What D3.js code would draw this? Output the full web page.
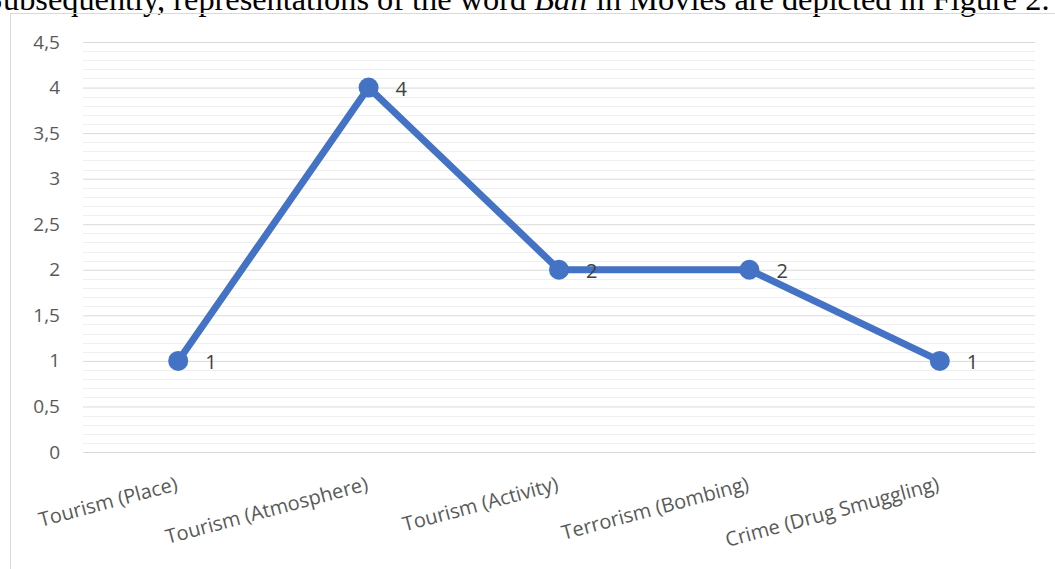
<!DOCTYPE html>
<html>
<head>
<meta charset="utf-8">
<script src="https://cdn.jsdelivr.net/npm/d3@7"></script>
<style>
  html, body { margin: 0; padding: 0; background: #fff; overflow: hidden; }
  svg { display: block; }
</style>
</head>
<body>
<div id="chart"></div>
<script>
// data
var categories = ["Tourism (Place)", "Tourism (Atmosphere)", "Tourism (Activity)", "Terrorism (Bombing)", "Crime (Drug Smuggling)"];
var values = [1, 4, 2, 2, 1];
var yTicks = [0, 0.5, 1, 1.5, 2, 2.5, 3, 3.5, 4, 4.5];
var minorTicks = d3.range(0, 46).map(function (i) { return i / 10; });

var W = 1055, H = 569;
var svg = d3.select("#chart").append("svg")
  .attr("width", W)
  .attr("height", H);

// caption line of the page, cut at the top like in the scan
var cap = svg.append("text")
  .attr("x", -15)
  .attr("y", 10)
  .style("font-family", "'Liberation Serif', 'Times New Roman', serif")
  .style("font-size", "30px")
  .style("fill", "#000");
cap.append("tspan").text("Subsequently, representations of the word ");
cap.append("tspan").style("font-style", "italic").text("Bali");
cap.append("tspan").text(" in Movies are depicted in Figure 2.");
// fit the line to the width seen in the picture
var capLen = cap.node().getComputedTextLength();
cap.style("font-size", (30 * 1065 / capLen) + "px");

// chart frame
svg.append("rect")
  .attr("x", 10.5).attr("y", 13.5)
  .attr("width", W + 20).attr("height", H + 20)
  .style("fill", "none")
  .style("stroke", "#d9d9d9")
  .style("stroke-width", 1);

var x = d3.scalePoint()
  .domain(categories)
  .range([83, 1035])
  .padding(0.5);

var y = d3.scaleLinear()
  .domain([0, 4.5])
  .range([452, 42]);

var fmt = d3.formatLocale({ decimal: ",", thousands: ".", grouping: [3], currency: ["", ""] }).format("~g");

// minor grid
svg.append("g").selectAll("line")
  .data(minorTicks.filter(function (d) { return Math.round(d * 10) % 5 !== 0; }))
  .enter().append("line")
  .attr("x1", 83).attr("x2", 1035)
  .attr("y1", function (d) { return Math.round(y(d)) + 0.5; })
  .attr("y2", function (d) { return Math.round(y(d)) + 0.5; })
  .style("stroke", "#efefef")
  .style("stroke-width", 1);

// major grid + y axis labels
var yAxis = d3.axisLeft(y)
  .tickValues(yTicks)
  .tickSize(-(1035 - 83))
  .tickPadding(23)
  .tickFormat(fmt);

var gy = svg.append("g")
  .attr("transform", "translate(83,0)")
  .call(yAxis);
gy.select(".domain").remove();
gy.selectAll(".tick line").style("stroke", "#d9d9d9");
gy.selectAll(".tick text")
  .style("font-family", "'Open Sans', sans-serif")
  .style("font-size", "19px")
  .style("fill", "#595959");

// x axis labels
var xAxis = d3.axisBottom(x).tickSize(0).tickPadding(0);
var gx = svg.append("g")
  .attr("transform", "translate(0,452)")
  .call(xAxis);
gx.select(".domain").style("stroke", "#d9d9d9");
gx.selectAll(".tick text")
  .style("font-family", "'Open Sans', sans-serif")
  .style("font-size", "20px")
  .style("fill", "#595959")
  .style("text-anchor", "end")
  .attr("y", 0)
  .attr("dy", 0)
  .attr("transform", "translate(0,38) rotate(-15)");

// line
var line = d3.line()
  .x(function (d, i) { return x(categories[i]); })
  .y(function (d) { return y(d); });

svg.append("path")
  .datum(values)
  .attr("d", line)
  .style("fill", "none")
  .style("stroke", "#4472c4")
  .style("stroke-width", 7)
  .style("stroke-linejoin", "round");

svg.append("g").selectAll("circle")
  .data(values)
  .enter().append("circle")
  .attr("cx", function (d, i) { return x(categories[i]); })
  .attr("cy", function (d) { return y(d); })
  .attr("r", 10)
  .style("fill", "#4472c4");

svg.append("g").selectAll("text")
  .data(values)
  .enter().append("text")
  .attr("x", function (d, i) { return x(categories[i]) + 27; })
  .attr("y", function (d) { return y(d) + 8; })
  .style("font-family", "'Open Sans', sans-serif")
  .style("font-size", "20px")
  .style("fill", "#404040")
  .text(function (d) { return fmt(d); });
</script>
</body>
</html>
